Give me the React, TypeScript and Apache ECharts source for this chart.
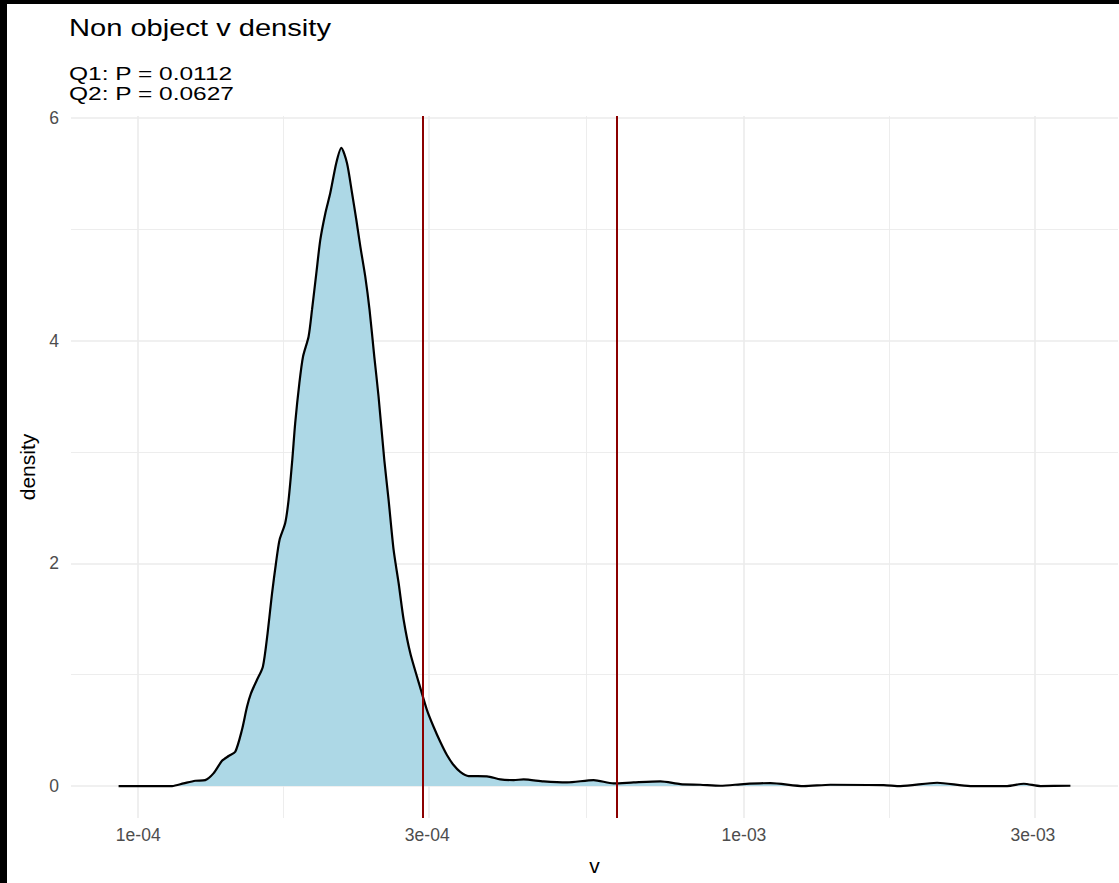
import React, { useEffect, useRef } from "react";
import * as echarts from "echarts";

// Density curve (v on a log10 scale, density)
const densityX = [
  9.28e-5, 9.7e-5, 1.137e-4, 1.188e-4, 1.242e-4, 1.29e-4, 1.331e-4, 1.375e-4, 1.41e-4, 1.446e-4,
  1.483e-4, 1.512e-4, 1.535e-4, 1.57e-4, 1.606e-4, 1.635e-4, 1.663e-4, 1.688e-4, 1.711e-4, 1.748e-4,
  1.771e-4, 1.796e-4, 1.816e-4, 1.845e-4, 1.871e-4, 1.911e-4, 1.936e-4, 1.968e-4, 1.998e-4, 2.037e-4,
  2.075e-4, 2.123e-4, 2.164e-4, 2.211e-4, 2.254e-4, 2.291e-4, 2.326e-4, 2.37e-4, 2.409e-4, 2.453e-4,
  2.493e-4, 2.548e-4, 2.59e-4, 2.64e-4, 2.691e-4, 2.743e-4, 2.813e-4, 2.929e-4, 2.997e-4, 3.073e-4,
  3.152e-4, 3.233e-4, 3.316e-4, 3.401e-4, 3.511e-4, 3.765e-4, 3.961e-4, 4.167e-4, 4.327e-4, 4.67e-4,
  5.105e-4, 5.646e-4, 6.093e-4, 6.574e-4, 7.278e-4, 7.852e-4, 8.472e-4, 9.142e-4, 9.99e-4, 1.106e-3,
  1.255e-3, 1.389e-3, 1.701e-3, 1.813e-3, 2.084e-3, 2.365e-3, 2.72e-3, 2.897e-3, 3.086e-3, 3.459e-3,
];
const densityY = [
  0, 0, 0, 0.024, 0.048, 0.054, 0.114, 0.227, 0.27, 0.308,
  0.503, 0.712, 0.833, 0.952, 1.072, 1.372, 1.731, 2.001, 2.21, 2.36,
  2.57, 2.929, 3.259, 3.618, 3.857, 4.037, 4.277, 4.606, 4.906, 5.146,
  5.325, 5.595, 5.73, 5.595, 5.325, 5.085, 4.846, 4.576, 4.277, 3.857,
  3.498, 2.929, 2.57, 2.12, 1.821, 1.491, 1.192, 0.863, 0.683, 0.533,
  0.398, 0.279, 0.189, 0.128, 0.09, 0.088, 0.06, 0.054, 0.06, 0.042,
  0.033, 0.054, 0.024, 0.033, 0.042, 0.018, 0.012, 0.003, 0.018, 0.027,
  0, 0.012, 0.009, 0, 0.03, 0, 0, 0.021, 0, 0.003,
];

// Quantile reference lines
const quantileLines = [2.92e-4, 6.15e-4];

const titleText = "Non object v density";
const subtitleLines = ["Q1: P = 0.0112", "Q2: P = 0.0627"];

const xTickValues = [1e-4, 3e-4, 1e-3, 3e-3];
const xTickLabels = ["1e-04", "3e-04", "1e-03", "3e-03"];
const yTickValues = [0, 2, 4, 6];
const yMinorValues = [1, 3, 5];
const xAxisName = "v";
const yAxisName = "density";

export default function App() {
  const ref = useRef<HTMLDivElement>(null);

  useEffect(() => {
    const chart = echarts.init(ref.current!, null, { renderer: "svg" });

    const lx = densityX.map((v) => Math.log10(v));
    const xMinD = Math.min(...lx);
    const xMaxD = Math.max(...lx);
    const xPad = (xMaxD - xMinD) * 0.05;
    const yMaxD = Math.max(...densityY);
    const yPad = yMaxD * 0.05;

    const xMajor = xTickValues.map((v) => Math.log10(v));
    const xMinor: number[] = [];
    for (let i = 0; i < xMajor.length - 1; i++) xMinor.push((xMajor[i] + xMajor[i + 1]) / 2);

    const font = "'Liberation Sans', Arial, sans-serif";
    const gridColor = "#EBEBEB";

    const gridLines: any[] = [
      ...xMajor.map((v) => ({ xAxis: v, lineStyle: { color: gridColor, width: 1.6, type: "solid" } })),
      ...xMinor.map((v) => ({ xAxis: v, lineStyle: { color: gridColor, width: 0.9, type: "solid" } })),
      ...yTickValues.map((v) => ({ yAxis: v, lineStyle: { color: gridColor, width: 1.6, type: "solid" } })),
      ...yMinorValues.map((v) => ({ yAxis: v, lineStyle: { color: gridColor, width: 0.9, type: "solid" } })),
    ];

    chart.setOption({
      animation: false,
      backgroundColor: "#ffffff",
      grid: { left: 71, right: 1, top: 116, bottom: 65, containLabel: false },
      xAxis: {
        type: "value",
        min: xMinD - xPad,
        max: xMaxD + xPad,
        axisLine: { show: false },
        axisTick: { show: false },
        splitLine: { show: false },
        axisLabel: {
          customValues: xMajor,
          margin: 8,
          fontSize: 17.5,
          fontFamily: font,
          color: "#4D4D4D",
          formatter: (val: number) => {
            const i = xMajor.findIndex((m) => Math.abs(m - val) < 1e-6);
            return i >= 0 ? xTickLabels[i] : "";
          },
        },
        name: xAxisName,
        nameLocation: "middle",
        nameGap: 37,
        nameTextStyle: { fontSize: 21, fontFamily: font, color: "#000" },
      },
      yAxis: {
        type: "value",
        min: -yPad,
        max: yMaxD + yPad,
        axisLine: { show: false },
        axisTick: { show: false },
        splitLine: { show: false },
        axisLabel: {
          customValues: yTickValues,
          margin: 12,
          fontSize: 17.5,
          fontFamily: font,
          color: "#4D4D4D",
          formatter: (val: number) => String(Math.round(val)),
        },
        name: yAxisName,
        nameLocation: "middle",
        nameGap: 32,
        nameRotate: 90,
        nameTextStyle: { fontSize: 21, fontFamily: font, color: "#000" },
      },
      series: [
        {
          type: "line",
          name: "grid",
          data: [[xMinD, 0]],
          symbol: "none",
          silent: true,
          lineStyle: { opacity: 0 },
          z: 1,
          markLine: {
            silent: true,
            symbol: "none",
            z: 1,
            label: { show: false },
            emphasis: { disabled: true },
            data: gridLines,
          },
        },
        {
          type: "line",
          name: "density",
          data: lx.map((x, i) => [x, densityY[i]]),
          symbol: "none",
          smooth: 0.25,
          z: 2,
          lineStyle: { color: "#000000", width: 2.2 },
          areaStyle: { color: "#ADD8E6", opacity: 1 },
        },
        {
          type: "line",
          name: "quantiles",
          data: [[xMinD, 0]],
          symbol: "none",
          silent: true,
          lineStyle: { opacity: 0 },
          z: 3,
          markLine: {
            silent: true,
            symbol: "none",
            z: 6,
            label: { show: false },
            emphasis: { disabled: true },
            data: quantileLines.map((q) => ({
              xAxis: Math.log10(q),
              lineStyle: { color: "#8B0000", width: 2, type: "solid" },
            })),
          },
        },
      ],
      graphic: [
        { type: "rect", z: 100, shape: { x: 0, y: 0, width: 1119, height: 4 }, style: { fill: "#000" } },
        { type: "rect", z: 100, shape: { x: 0, y: 0, width: 7, height: 883 }, style: { fill: "#000" } },
        {
          type: "text",
          z: 100,
          x: 69,
          y: 28.5,
          scaleX: 1.265,
          style: { text: titleText, fontSize: 23, fontFamily: font, fill: "#000", verticalAlign: "middle", align: "left" },
        },
        ...subtitleLines.map((t, i) => ({
          type: "text",
          z: 100,
          x: 69,
          y: 74 + i * 20,
          scaleX: 1.29,
          style: { text: t, fontSize: 19, fontFamily: font, fill: "#000", verticalAlign: "middle", align: "left" },
        })),
      ],
    });

    return () => chart.dispose();
  }, []);

  return (
    <div
      ref={ref}
      style={{ position: "fixed", left: 0, top: 0, width: 1119, height: 883, background: "#fff" }}
    />
  );
}
